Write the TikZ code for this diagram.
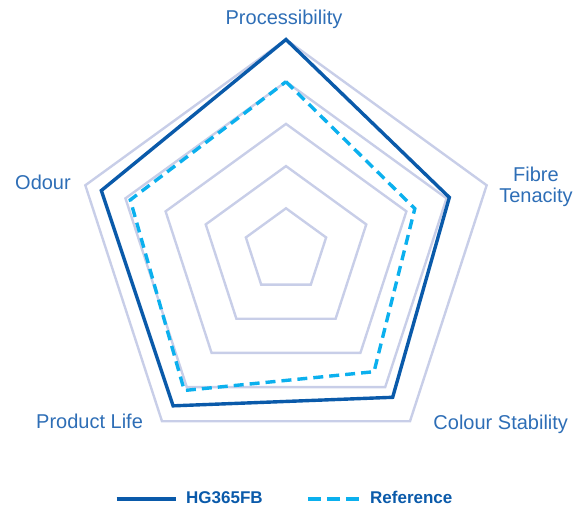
\documentclass[tikz,border=0pt]{standalone}
\usepackage{fontspec}
\setmainfont{Liberation Sans}
\usetikzlibrary{positioning}
\definecolor{gridgrey}{HTML}{C8CEE8}
\definecolor{hgblue}{HTML}{0A5AAA}
\definecolor{refblue}{HTML}{0BB0EE}
\definecolor{labelblue}{HTML}{2E6EB6}

\begin{document}
\begin{tikzpicture}[x=1pt,y=1pt,every node/.style={inner sep=0pt,text=labelblue,font=\fontsize{20}{21}\selectfont},ring/.style={draw=gridgrey,line width=2.4pt},hgline/.style={draw=hgblue,line width=3.4pt},refline/.style={draw=refblue,line width=3.4pt,dash pattern=on 10pt off 6pt},legendtext/.style={anchor=base west,text=hgblue,font=\fontsize{17}{17}\bfseries\selectfont}]
\useasboundingbox (-286,-260.5) rectangle (296,250.5);
% grid
\foreach \r in {1,...,5}
  \draw[ring] (90:\r*42.2) -- (18:\r*42.2) -- (-54:\r*42.2) -- (-126:\r*42.2) -- (162:\r*42.2) -- cycle;
% HG365FB
\coordinate (hg-proc) at (90:5*42.2);
\coordinate (hg-fibre) at (18:4.07*42.2);
\coordinate (hg-colour) at (-54:4.3*42.2);
\coordinate (hg-life) at (-126:4.55*42.2);
\coordinate (hg-odour) at (162:4.6*42.2);
\draw[hgline] (hg-proc) -- (hg-fibre) -- (hg-colour) -- (hg-life) -- (hg-odour) -- cycle;
% Reference
\coordinate (ref-proc) at (90:4*42.2);
\coordinate (ref-fibre) at (18:3.21*42.2);
\coordinate (ref-colour) at (-54:3.55*42.2);
\coordinate (ref-life) at (-126:4.1*42.2);
\coordinate (ref-odour) at (162:3.88*42.2);
\draw[refline] (ref-proc) -- (ref-fibre) -- (ref-colour) -- (ref-life) -- (ref-odour) -- cycle;
% axis labels
\node[anchor=base] (proc) at (-2,225.5) {Processibility};
\node[anchor=base,align=center] (fibre) at (250,47.8) {Fibre\\Tenacity};
\node[anchor=base west] (colour) at (147.3,-178.8) {Colour Stability};
\node[anchor=base west] (life) at (-250,-177.8) {Product Life};
\node[anchor=base west] (odour) at (-271,60.5) {Odour};
% legend
\coordinate (hg-key-a) at (-169.3,-248.5);
\coordinate (hg-key-b) at (-110,-248.5);
\draw[hgline] (hg-key-a) -- (hg-key-b);
\node[legendtext] (hg-key) at (-100,-253.5) {HG365FB};
\coordinate (ref-key-a) at (22,-248.5);
\coordinate (ref-key-b) at (73.3,-248.5);
\draw[refline,dash pattern=on 13pt off 6pt] (ref-key-a) -- (ref-key-b);
\node[legendtext] (ref-key) at (84,-253.5) {Reference};
\end{tikzpicture}
\end{document}
